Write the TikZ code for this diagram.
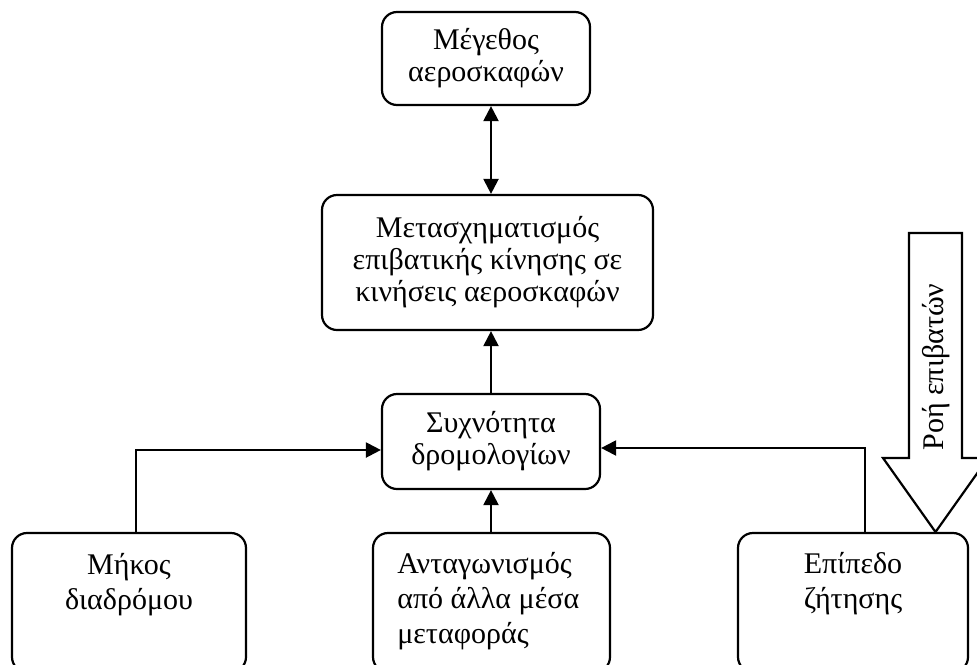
\documentclass[tikz,border=0pt]{standalone}
\usepackage{fontspec}
\setmainfont{Liberation Serif}
\usetikzlibrary{arrows.meta,positioning}
\tikzset{
  box/.style={draw, rounded corners=7.5pt, line width=1.1pt, align=center, inner sep=0pt},
  txt/.style={inner sep=0pt, align=center, font=\fontsize{15}{17.5}\selectfont},
  link/.style={line width=1.1pt, -{Triangle[length=7.5pt,width=7.5pt]}},
}
\begin{document}
\begin{tikzpicture}[x=0.5pt, y=-0.5pt, font=\fontsize{15}{16}\selectfont]
  \useasboundingbox (0,0) rectangle (977,664);
  % boxes
  \node[box, minimum width=104pt, minimum height=46.5pt] (size) at (486,58.5) {Μέγεθος\\αεροσκαφών};
  \node[box, minimum width=165.5pt, minimum height=67.5pt] (trans) at (487.5,262.5) {Μετασχηματισμός\\επιβατικής κίνησης σε\\κινήσεις αεροσκαφών};
  \node[box, minimum width=109pt, minimum height=47.5pt] (freq) at (491,441.5) {Συχνότητα\\δρομολογίων};
  \node[box, minimum width=117pt, minimum height=69.5pt] (length) at (129,602.5) {};
  \node[box, minimum width=118.5pt, minimum height=69.5pt] (comp) at (491.5,602.5) {};
  \node[box, minimum width=115pt, minimum height=69.5pt] (demand) at (853,602.5) {};
  \node[txt, below=10.5pt of length.north] (lengthtxt) {Μήκος\\διαδρόμου};
  \node[txt, align=left, below right=10pt and 12.5pt of comp.north west] (comptxt) {Ανταγωνισμός\\από άλλα μέσα\\μεταφοράς};
  \node[txt, below=10pt of demand.north] (demandtxt) {Επίπεδο\\ζήτησης};
  % passenger flow
  \draw[line width=1.1pt, fill=white] (909,233) -- (962,233) -- (962,458) -- (988,458) -- (935.5,532) -- (883,458) -- (909,458) -- cycle;
  \node[rotate=90, inner sep=0pt] (flow) at (936,367) {Ροή επιβατών};
  % connectors
  \draw[link, {Triangle[length=7.5pt,width=7.5pt]}-{Triangle[length=7.5pt,width=7.5pt]}] (size.south -| freq) -- (trans.north -| freq);
  \draw[link] (freq.north) -- (freq.north |- trans.south);
  \draw[link] (comp.north -| freq) -- (freq.south);
  \draw[link] ([xshift=3.5pt]length.north) |- ([yshift=-4.25pt]freq.west);
  \draw[link] ([xshift=6pt]demand.north) |- ([yshift=-3.25pt]freq.east);
\end{tikzpicture}
\end{document}
